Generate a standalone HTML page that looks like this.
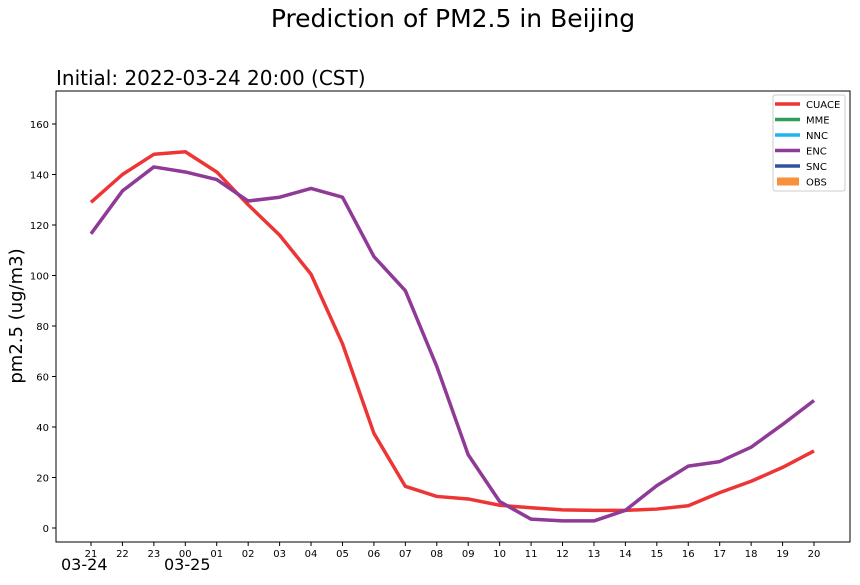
<!DOCTYPE html>
<html><head><meta charset="utf-8"><style>
body{margin:0;background:#fff;font-family:"Liberation Sans","DejaVu Sans",sans-serif;}
</style></head><body>
<svg id="c" width="860" height="580" xmlns="http://www.w3.org/2000/svg" style="font-family:'DejaVu Sans','Liberation Sans',sans-serif">
<text x="453" y="27" font-size="25" text-anchor="middle">Prediction of PM2.5 in Beijing</text>
<text x="56" y="85" font-size="20">Initial: 2022-03-24 20:00 (CST)</text>
<text transform="translate(22,316) rotate(-90)" font-size="18" text-anchor="middle">pm2.5 (ug/m3)</text>
<rect x="56" y="91" width="794" height="451" fill="none" stroke="#000" stroke-width="1"/>
<g id="ticks"></g>
<g id="lines"></g>
<text x="61" y="570" font-size="16">03-24</text>
<text x="164" y="570" font-size="16">03-25</text>
<g>
<rect x="773" y="95" width="72" height="96" fill="#fff" stroke="#ccc" rx="2"/>
</g>
</svg>
<script>
const hours=["21","22","23","00","01","02","03","04","05","06","07","08","09","10","11","12","13","14","15","16","17","18","19","20"];
const yTicks=[0,20,40,60,80,100,120,140,160];
const cuace=[129,140,148,149,141,128,116,100.5,73,37.5,16.5,12.5,11.5,9,8,7.2,7,7,7.5,8.8,14,18.5,24,30.5];
const enc=[116.5,133.5,143,141,138,129.5,131,134.5,131,107.5,94,64,29,10.5,3.5,2.8,2.8,7,16.8,24.5,26.3,32,41,50.5];
const legendNames=["CUACE","MME","NNC","ENC","SNC","OBS"];
const legendColors=["#ee3535","#2ca05a","#1fb4f0","#8f3a97","#33539e","#f7913d"];
const NS="http://www.w3.org/2000/svg";
const xs=i=>91+i*(814-91)/23;
const ys=v=>528-v*(528-124)/160;
const svg=document.getElementById('c'),tg=document.getElementById('ticks'),lg=document.getElementById('lines');
function mk(t,a,p){const e=document.createElementNS(NS,t);for(const k in a)e.setAttribute(k,a[k]);(p||svg).appendChild(e);return e;}
yTicks.forEach(v=>{
 const l=mk('line',{x1:52,x2:56,y1:ys(v),y2:ys(v),stroke:'#000'},tg);
 
 
 const t=mk('text',{x:49,y:ys(v)+4,'font-size':10,'text-anchor':'end'},tg);t.textContent=v;
 
 
});
hours.forEach((h,i)=>{
 const l=mk('line',{x1:xs(i),x2:xs(i),y1:542,y2:546,stroke:'#000'},tg);
 
 
 const t=mk('text',{x:xs(i),y:557,'font-size':10,'text-anchor':'middle'},tg);t.textContent=h;
 
 
});
function series(arr,color,name){
 const p=mk('polyline',{points:arr.map((v,i)=>xs(i)+','+ys(v)).join(' '),fill:'none',stroke:color,'stroke-width':3.5,'stroke-linejoin':'round'},lg);
 
 
}
series(cuace,'#ee3535','cuace-line');
series(enc,'#8f3a97','enc-line');
legendNames.forEach((n,i)=>{
 const y=104+i*15.5;
 let m;
 if(n==='OBS') m=mk('rect',{x:777,y:y-4,width:22,height:8,fill:legendColors[i]});
 else m=mk('line',{x1:775,x2:800,y1:y,y2:y,stroke:legendColors[i],'stroke-width':3.5});
 
 
 const t=mk('text',{x:806,y:y+4,'font-size':10});t.textContent=n;
 
 
});
</script>
</body></html>
